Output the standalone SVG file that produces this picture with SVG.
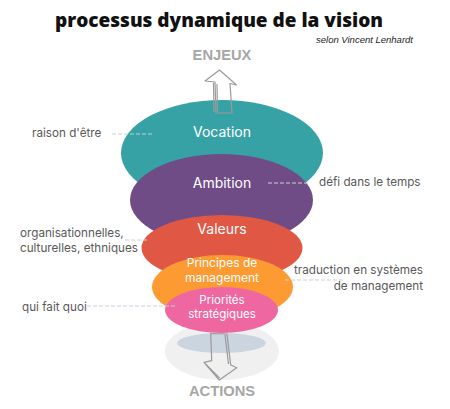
<svg xmlns="http://www.w3.org/2000/svg" width="450" height="409" viewBox="0 0 450 409">
<style>
.lbl{font-family:Inter,"Liberation Sans",sans-serif;fill:#fff;text-anchor:middle}
.side{font-family:Inter,"Liberation Sans",sans-serif;fill:#595959;font-size:11.7px}
.dash{stroke:#c5d0dc;stroke-width:1;stroke-dasharray:4 2;fill:none}
.sk{fill:none;stroke:#9a9a9a;stroke-width:1.2;stroke-linejoin:round}
.big{font-family:"Liberation Sans",Arial,sans-serif;font-weight:bold;fill:#a6a6a6;font-size:14.7px;text-anchor:middle}
</style>
<rect width="450" height="409" fill="#fff"/>
<text x="219" y="27" font-family="'Open Sans','Liberation Sans',sans-serif" font-weight="800" font-size="19.5" text-anchor="middle" textLength="328" lengthAdjust="spacingAndGlyphs" fill="#111">processus dynamique de la vision</text>
<text x="413" y="42.5" font-family="'Liberation Sans',Arial,sans-serif" font-style="italic" font-size="9.5" text-anchor="end" fill="#222">selon Vincent Lenhardt</text>
<text class="big" x="222" y="60">ENJEUX</text>
<text class="big" x="222" y="396">ACTIONS</text>

<g id="base">
<ellipse cx="222" cy="351" rx="57" ry="29" fill="#f0f0f0"/>
<ellipse cx="221.5" cy="343" rx="44.5" ry="10" fill="#cbd5df"/>
</g>
<g id="vocation">
<ellipse cx="222" cy="153" rx="101" ry="53" fill="#37a2a6"/>
<text class="lbl" x="222" y="137" font-size="14">Vocation</text>
</g>
<g id="ambition">
<ellipse cx="221.5" cy="200" rx="91.5" ry="46" fill="#6f4c86"/>
<text class="lbl" x="222" y="188" font-size="14">Ambition</text>
</g>
<g id="valeurs">
<ellipse cx="222" cy="248" rx="80.5" ry="33" fill="#e05844"/>
<text class="lbl" x="222" y="234" font-size="14">Valeurs</text>
</g>
<g id="principes">
<ellipse cx="222.5" cy="287" rx="70.5" ry="32" fill="#fe9a32"/>
<text class="lbl" x="222" y="267" font-size="12">Principes de</text>
<text class="lbl" x="222" y="281.5" font-size="12">management</text>
</g>
<g id="priorites">
<ellipse cx="221.5" cy="310" rx="56.5" ry="23" fill="#ee67a1"/>
<text class="lbl" x="222" y="304" font-size="11.5">Priorités</text>
<text class="lbl" x="222" y="318" font-size="11.5">stratégiques</text>
</g>

<g id="arrows">
<path class="sk" d="M216 113 L215 82 L205 81 L219.5 70 L236.5 85 L230 83.5 L232 113 Z"/>
<path class="sk" d="M214 112 L213.5 83 M217.5 112 L217 84" stroke-width="0.8"/>
<path class="sk" d="M210.7 333.5 L227 334 L230.7 365 L236.7 367.7 L219.3 380 L204 362.3 L211.7 360.7 Z"/>
<path class="sk" d="M225 335 L228.5 364 M205.5 364 L219.5 378" stroke-width="0.8"/>
</g>

<g id="connectors">
<line class="dash" x1="112" y1="134" x2="153" y2="134"/>
<line class="dash" x1="268" y1="183" x2="308" y2="183"/>
<line class="dash" x1="125" y1="240" x2="147" y2="240"/>
<line class="dash" x1="285" y1="280" x2="343" y2="280"/>
<line class="dash" x1="87" y1="306" x2="176" y2="306"/>
</g>
<g id="annotations">
<text class="side" x="32" y="137">raison d'être</text>
<text class="side" x="319" y="186">défi dans le temps</text>
<text class="side" x="20" y="237">organisationnelles,</text>
<text class="side" x="20" y="252">culturelles, ethniques</text>
<text class="side" x="423" y="274" text-anchor="end">traduction en systèmes</text>
<text class="side" x="423" y="290" text-anchor="end">de management</text>
<text class="side" x="22" y="311">qui fait quoi</text>
</g>
</svg>
